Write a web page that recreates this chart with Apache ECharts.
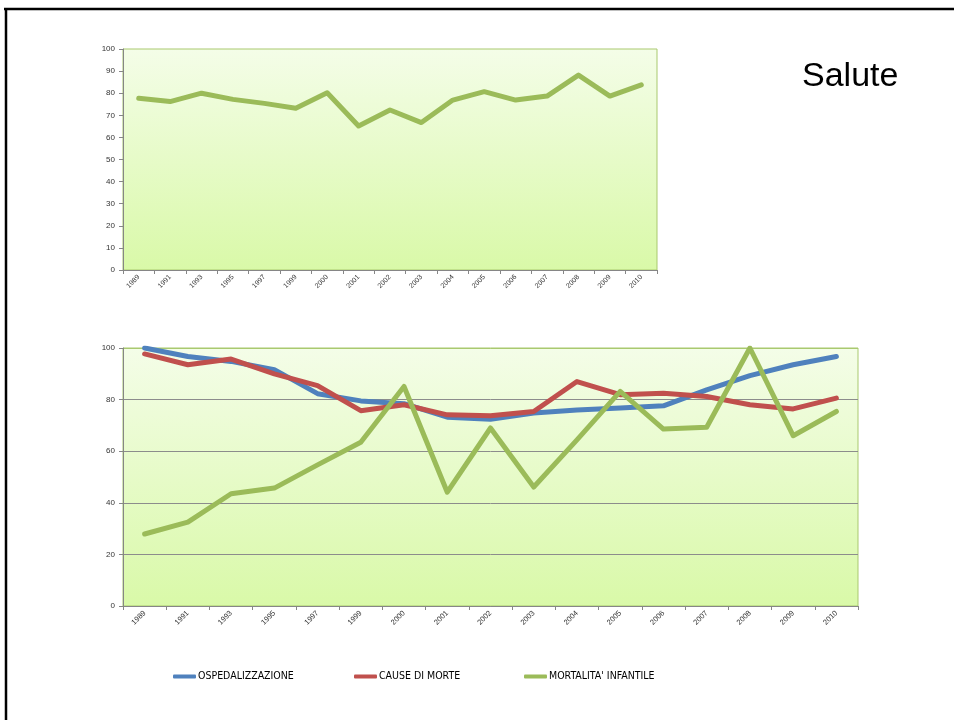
<!DOCTYPE html>
<html><head><meta charset="utf-8">
<script src="https://cdn.jsdelivr.net/npm/echarts@6/dist/echarts.min.js"></script>
<style>html,body{margin:0;padding:0;background:#fff}#c{width:954px;height:720px}</style>
</head><body><div id="c"></div>
<script>
const years = ['1989','1991','1993','1995','1997','1999','2000','2001','2002','2003','2004','2005','2006','2007','2008','2009','2010'];
const topValues = [77.7,76.2,80,77.2,75.4,73.2,80.2,65.2,72.4,66.7,76.9,80.7,76.9,78.7,88.2,78.7,83.8];
const ospedalizzazione = [100,96.7,94.8,91.6,82.3,79.5,78.4,73.2,72.4,74.8,76,76.7,77.6,83.8,89.3,93.5,96.7];
const causeDiMorte = [97.7,93.5,95.7,90,85.4,75.7,78,74.1,73.7,75.4,87,81.9,82.5,81.2,78,76.4,80.6];
const mortalitaInfantile = [27.9,32.5,43.5,45.7,54.7,63.5,85.1,44.1,69,46.1,64.4,83.2,68.6,69.3,100,66,75.4];
const seriesNames = ['OSPEDALIZZAZIONE','CAUSE DI MORTE',"MORTALITA' INFANTILE"];
const colors = ['#4f81bd','#c0504d','#9bbb59'];

const chart = echarts.init(document.getElementById('c'), null, {renderer:'canvas'});
const bg = () => new echarts.graphic.LinearGradient(0,0,0,1,[{offset:0,color:'#f4fde8'},{offset:1,color:'#d9f9a8'}]);
const font = "'Liberation Sans', Arial, sans-serif";
const narrow = "'Liberation Sans Narrow', 'Arial Narrow', 'DejaVu Sans Condensed', sans-serif";
const xAxisBase = (gi, fs) => ({
  type:'category', gridIndex:gi, data:years, boundaryGap:true,
  axisLine:{lineStyle:{color:'#868686',width:1}},
  axisTick:{show:true,length:4,lineStyle:{color:'#868686'}},
  axisLabel:{rotate:45,fontSize:fs,color:'#333',fontFamily:font,interval:0,margin:6}
});
const legends = [0,1,2].map((i)=>({
  data:[seriesNames[i]], left:[173,354,524][i], top:671, icon:'roundRect',
  itemWidth:23, itemHeight:4, padding:0, itemGap:0,
  textStyle:{fontSize:10.5,color:'#000',fontFamily:narrow,padding:[0,0,0,-3]}
}));
chart.setOption({
  animation:false,
  backgroundColor:'#fff',
  legend: legends,
  grid:[
    {left:123,top:49,right:297,bottom:450,show:true,backgroundColor:bg(),borderColor:'#a9c96f',borderWidth:1,containLabel:false},
    {left:123,top:348,right:96,bottom:114,show:true,backgroundColor:bg(),borderColor:'#a9c96f',borderWidth:1,containLabel:false}
  ],
  xAxis:[xAxisBase(0,7), xAxisBase(1,7.5)],
  yAxis:[
    {type:'value',gridIndex:0,min:0,max:100,interval:10,
     axisLine:{show:true,lineStyle:{color:'#868686'}},axisTick:{show:true,length:4,lineStyle:{color:'#868686'}},
     splitLine:{show:false},axisLabel:{fontSize:8,color:'#333',fontFamily:font,margin:8}},
    {type:'value',gridIndex:1,min:0,max:100,interval:20,
     axisLine:{show:true,lineStyle:{color:'#868686'}},axisTick:{show:true,length:4,lineStyle:{color:'#868686'}},
     splitLine:{show:true,lineStyle:{color:['#868686','#8c8c8c','#8c8c8c','#8c8c8c','#8c8c8c','#a9c96f'],width:1}},
     axisLabel:{fontSize:8,color:'#333',fontFamily:font,margin:8}}
  ],
  series:[
    {type:'line',xAxisIndex:0,yAxisIndex:0,data:topValues,symbol:'none',lineStyle:{color:colors[2],width:5,join:'round',cap:'round'},itemStyle:{color:colors[2]}},
    {name:seriesNames[0],type:'line',xAxisIndex:1,yAxisIndex:1,data:ospedalizzazione,symbol:'none',lineStyle:{color:colors[0],width:5,join:'round',cap:'round'},itemStyle:{color:colors[0]}},
    {name:seriesNames[1],type:'line',xAxisIndex:1,yAxisIndex:1,data:causeDiMorte,symbol:'none',lineStyle:{color:colors[1],width:5,join:'round',cap:'round'},itemStyle:{color:colors[1]}},
    {name:seriesNames[2],type:'line',xAxisIndex:1,yAxisIndex:1,data:mortalitaInfantile,symbol:'none',lineStyle:{color:colors[2],width:5,join:'round',cap:'round'},itemStyle:{color:colors[2]}}
  ],
  graphic:[
    {type:'line',shape:{x1:4,y1:9,x2:954,y2:9},style:{stroke:'#000',lineWidth:2.5},silent:true},
    {type:'line',shape:{x1:6,y1:8,x2:6,y2:720},style:{stroke:'#000',lineWidth:2.5},silent:true},
    {type:'text',x:802,y:77,style:{text:'Salute',fontSize:34,fontFamily:font,fill:'#000',verticalAlign:'middle',align:'left'}}
  ]
});
</script></body></html>
